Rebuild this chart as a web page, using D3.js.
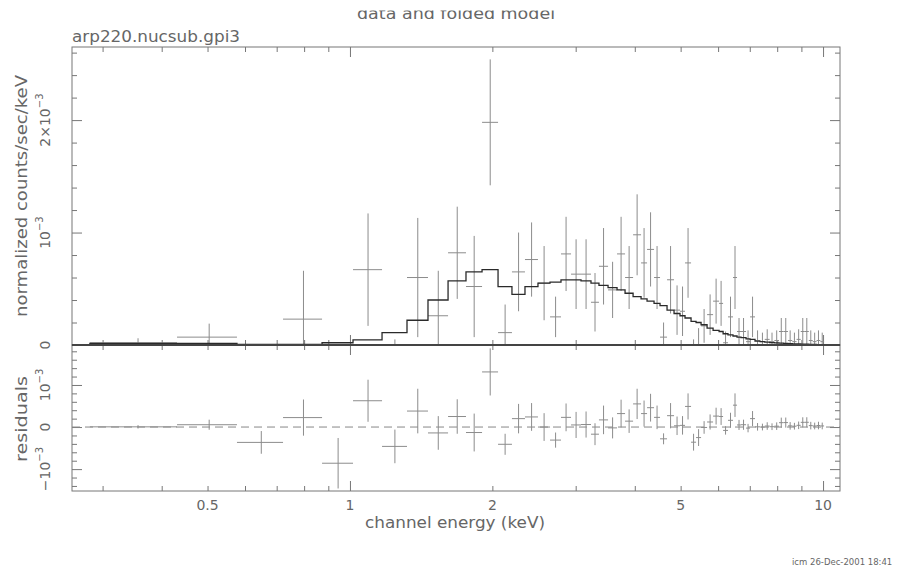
<!DOCTYPE html>
<html>
<head>
<meta charset="utf-8">
<script src="https://cdn.jsdelivr.net/npm/d3@7"></script>
<style>
	body { margin: 0; background: #fff; }
	svg text { font-family: "DejaVu Sans", sans-serif; fill: #666; }
</style>
</head>
<body>
<svg id="chart" width="918" height="568"></svg>
<script>
// bin edges in keV (63 channels)
const binEdges = [
	0.282, 0.431, 0.577, 0.722, 0.873, 1.015, 1.169, 1.320, 1.462, 1.612,
	1.759, 1.902, 2.056, 2.200, 2.344, 2.497, 2.648, 2.793, 2.933, 3.079,
	3.232, 3.360, 3.512, 3.669, 3.815, 3.967, 4.124, 4.246, 4.393, 4.523,
	4.680, 4.842, 4.985, 5.108, 5.260, 5.390, 5.523, 5.687, 5.855, 6.029,
	6.148, 6.296, 6.451, 6.579, 6.708, 6.874, 7.010, 7.181, 7.36, 7.53,
	7.71, 7.89, 8.07, 8.25, 8.43, 8.61, 8.79, 8.97, 9.15, 9.33,
	9.51, 9.69, 9.87, 10.05,
]
// data, error and folded model, in units of 10^-3 counts/sec/keV
const dataRate = [
	0.02, 0.07, -0.36, 0.23, -0.84, 0.67, -0.35, 0.60, 0.26, 0.82,
	0.52, 1.98, 0.11, 0.65, 0.76, 0.55, 0.25, 0.81, 0.63, 0.63,
	0.38, 0.70, 0.49, 0.81, 0.60, 0.98, 0.73, 0.85, 0.60, 0.07,
	0.58, 0.31, 0.30, 0.73, -0.15, -0.05, 0.17, 0.27, 0.39, 0.37,
	0.02, 0.25, 0.60, 0.12, 0.12, 0.03, 0.25, 0.04, 0.03, 0.05,
	0.03, 0.04, 0.12, 0.12, 0.04, 0.03, 0.05, 0.12, 0.12, 0.04,
	0.03, 0.04, 0.03,
]
const dataErr = [
	0.04, 0.12, 0.27, 0.43, 0.60, 0.50, 0.40, 0.53, 0.40, 0.41,
	0.45, 0.56, 0.25, 0.35, 0.33, 0.33, 0.18, 0.33, 0.31, 0.31,
	0.26, 0.34, 0.25, 0.33, 0.28, 0.36, 0.31, 0.33, 0.28, 0.13,
	0.30, 0.22, 0.22, 0.31, 0.20, 0.20, 0.15, 0.18, 0.20, 0.20,
	0.10, 0.18, 0.28, 0.12, 0.12, 0.10, 0.18, 0.09, 0.08, 0.09,
	0.08, 0.09, 0.12, 0.12, 0.09, 0.08, 0.09, 0.12, 0.12, 0.09,
	0.08, 0.09, 0.08,
]
const modelRate = [
	0.015, 0.015, 0.005, 0.005, 0.02, 0.045, 0.11, 0.22, 0.40, 0.57,
	0.65, 0.67, 0.52, 0.45, 0.52, 0.55, 0.56, 0.58, 0.58, 0.57,
	0.55, 0.53, 0.51, 0.49, 0.46, 0.43, 0.41, 0.39, 0.37, 0.35,
	0.31, 0.28, 0.26, 0.24, 0.21, 0.20, 0.18, 0.15, 0.13, 0.12,
	0.10, 0.09, 0.08, 0.07, 0.065, 0.055, 0.05, 0.035, 0.03, 0.026,
	0.022, 0.019, 0.016, 0.014, 0.012, 0.010, 0.009, 0.008, 0.007, 0.006,
	0.005, 0.004, 0.004,
]

const xMajor = [1, 10]
const xMinor = [0.3, 0.4, 0.5, 0.6, 0.7, 0.8, 0.9, 2, 3, 4, 5, 6, 7, 8, 9]
const xLabels = [0.5, 1, 2, 5, 10]
const topMajor = [0, 1, 2]
const topMinor = [0.2, 0.4, 0.6, 0.8, 1.2, 1.4, 1.6, 1.8, 2.2, 2.4, 2.6]
const resMajor = [-1, 0, 1]
const resMinor = [-1.4, -1.2, -0.8, -0.6, -0.4, -0.2, 0.2, 0.4, 0.6, 0.8, 1.2, 1.4, 1.6, 1.8]

const L = 72, R = 840, T = 47, MID = 345, B = 491
const frameColor = '#777'
const crossColor = '#8c8c8c'

const svg = d3.select('#chart')
const x = d3.scaleLog().domain([0.2585, 10.86]).range([L, R])
const yTop = d3.scaleLinear().domain([0, 2.65]).range([MID, T])
const yRes = d3.scaleLinear().domain([-1.52, 1.95]).range([B, MID])

const bins = dataRate.map((v, i) => ({
	lo: binEdges[i],
	hi: binEdges[i + 1],
	mid: (binEdges[i] + binEdges[i + 1]) / 2,
	v: v,
	e: dataErr[i],
	m: modelRate[i],
	r: v - modelRate[i],
}))

const defs = svg.append('defs')
defs.append('clipPath').attr('id', 'clipTop')
	.append('rect').attr('x', L).attr('y', T).attr('width', R - L).attr('height', MID - T)
defs.append('clipPath').attr('id', 'clipRes')
	.append('rect').attr('x', L).attr('y', MID).attr('width', R - L).attr('height', B - MID)
defs.append('clipPath').attr('id', 'clipTitle')
	.append('rect').attr('x', 0).attr('y', 10.5).attr('width', 918).attr('height', 20)

const tickAxis = (axis, vals, len) => g => {
	g.call(axis.tickValues(vals).tickSize(-len).tickFormat(''))
	g.select('.domain').remove()
	g.selectAll('.tick line').attr('stroke', frameColor)
}

const panel = (y, y0, y1, major, minor) => {
	const g = svg.append('g')
	g.append('g').attr('transform', `translate(0,${y0})`).call(tickAxis(d3.axisTop(x), xMinor, 5))
	g.append('g').attr('transform', `translate(0,${y0})`).call(tickAxis(d3.axisTop(x), xMajor, 10))
	g.append('g').attr('transform', `translate(0,${y1})`).call(tickAxis(d3.axisBottom(x), xMinor, 5))
	g.append('g').attr('transform', `translate(0,${y1})`).call(tickAxis(d3.axisBottom(x), xMajor, 10))
	g.append('g').attr('transform', `translate(${L},0)`).call(tickAxis(d3.axisLeft(y), minor, 5))
	g.append('g').attr('transform', `translate(${L},0)`).call(tickAxis(d3.axisLeft(y), major, 10))
	g.append('g').attr('transform', `translate(${R},0)`).call(tickAxis(d3.axisRight(y), minor, 5))
	g.append('g').attr('transform', `translate(${R},0)`).call(tickAxis(d3.axisRight(y), major, 10))
	g.append('rect')
		.attr('x', L).attr('y', y0).attr('width', R - L).attr('height', y1 - y0)
		.attr('fill', 'none').attr('stroke', frameColor)
}
panel(yTop, T, MID, topMajor, topMinor)
panel(yRes, MID, B, resMajor, resMinor)

const drawCrosses = (g, y, key) => {
	const c = g.selectAll('g.cross').data(bins).enter().append('g').attr('class', 'cross')
		.attr('stroke', crossColor).attr('stroke-width', 1)
	c.append('line')
		.attr('x1', d => x(d.lo)).attr('x2', d => x(d.hi))
		.attr('y1', d => y(d[key])).attr('y2', d => y(d[key]))
	c.append('line')
		.attr('x1', d => x(d.mid)).attr('x2', d => x(d.mid))
		.attr('y1', d => y(d[key] - d.e)).attr('y2', d => y(d[key] + d.e))
}

// top panel: data and folded model
const gTop = svg.append('g').attr('clip-path', 'url(#clipTop)')
drawCrosses(gTop, yTop, 'v')
const stepPts = [[bins[0].lo, 0]].concat(bins.map(d => [d.lo, d.m]), [[bins[bins.length - 1].hi, bins[bins.length - 1].m]])
gTop.append('path')
	.attr('d', d3.line().x(d => x(d[0])).y(d => yTop(d[1])).curve(d3.curveStepAfter)(stepPts))
	.attr('fill', 'none').attr('stroke', '#2a2a2a').attr('stroke-width', 1.3)
svg.append('line').attr('x1', L).attr('x2', R).attr('y1', MID).attr('y2', MID)
	.attr('stroke', '#444').attr('stroke-width', 2)

// residual panel
const gRes = svg.append('g').attr('clip-path', 'url(#clipRes)')
gRes.append('line').attr('x1', L).attr('x2', R).attr('y1', yRes(0)).attr('y2', yRes(0))
	.attr('stroke', '#888').attr('stroke-dasharray', '8,5')
drawCrosses(gRes, yRes, 'r')

// x tick labels
svg.append('g').selectAll('text').data(xLabels).enter().append('text')
	.attr('x', d => x(d)).attr('y', 510)
	.attr('text-anchor', 'middle').attr('font-size', 14)
	.text(d => d)

// rotated y tick labels
const yLabel = (yPos, pre, sup) => {
	const t = svg.append('text')
		.attr('transform', `translate(50,${yPos}) rotate(-90)`)
		.attr('text-anchor', 'middle').attr('font-size', 14)
	t.append('tspan').text(pre)
	if (sup) t.append('tspan').attr('dy', -7).attr('font-size', 10).text(sup)
}
yLabel(yTop(2), '2×10', '−3')
yLabel(yTop(1), '10', '−3')
yLabel(yTop(0), '0')
yLabel(yRes(1), '10', '−3')
yLabel(yRes(0), '0')
yLabel(yRes(-1), '−10', '−3')

const label = (txt, len) => svg.append('text').attr('font-size', 15)
	.attr('textLength', len).attr('lengthAdjust', 'spacingAndGlyphs').text(txt)

label('normalized counts/sec/keV', 242)
	.attr('transform', `translate(27,196) rotate(-90)`).attr('text-anchor', 'middle')
label('residuals', 86)
	.attr('transform', `translate(27,419) rotate(-90)`).attr('text-anchor', 'middle')
label('channel energy (keV)', 180)
	.attr('x', 455).attr('y', 528).attr('text-anchor', 'middle')
label('arp220.nucsub.gpi3', 168)
	.attr('x', L).attr('y', 42)
label('data and folded model', 198)
	.attr('x', 456).attr('y', 18.5).attr('text-anchor', 'middle')
	.attr('clip-path', 'url(#clipTitle)')
svg.append('text')
	.attr('x', 792).attr('y', 565).attr('font-size', 8.5)
	.text('icm 26-Dec-2001 18:41')
</script>
</body>
</html>
